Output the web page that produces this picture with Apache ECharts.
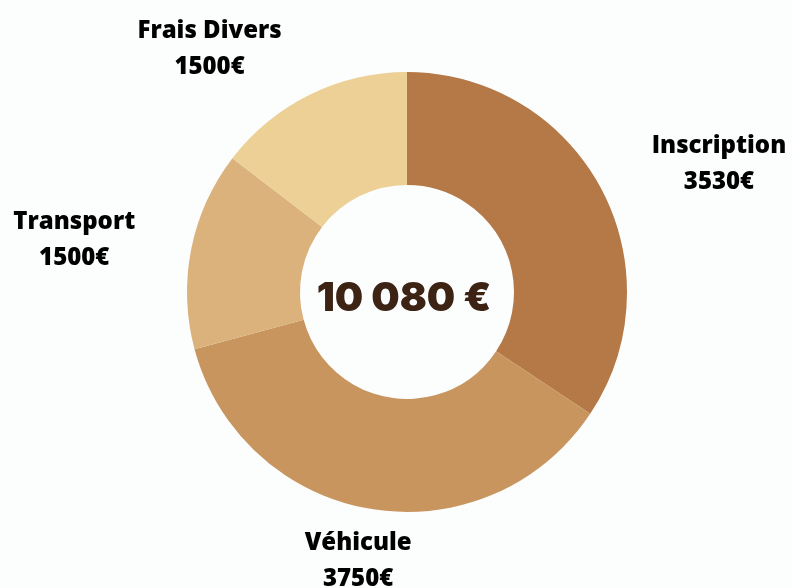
<!DOCTYPE html>
<html>
<head>
<meta charset="utf-8">
<script src="https://cdn.jsdelivr.net/npm/echarts@6/dist/echarts.min.js"></script>
<style>
html,body{margin:0;padding:0;background:#fcfefe;}
#chart{width:792px;height:588px;}
</style>
</head>
<body>
<div id="chart"></div>
<script>
const categories = ['Inscription', 'Véhicule', 'Transport', 'Frais Divers'];
const values = [3530, 3750, 1500, 1500];
const colors = ['#B57847', '#C9955F', '#DBB27B', '#EDD096'];
const totalLabel = '10 080 €';
const centeredBelow = ['Véhicule'];

const chart = echarts.init(document.getElementById('chart'));
chart.setOption({
  backgroundColor: '#fcfefe',
  animation: false,
  series: [{
    type: 'pie',
    center: [407, 292],
    radius: [107, 220],
    startAngle: 90,
    clockwise: true,
    avoidLabelOverlap: false,
    data: categories.map((c, i) => ({ name: c, value: values[i], itemStyle: { color: colors[i] } })),
    label: {
      show: true,
      position: 'outside',
      formatter: p => p.name + '\n' + p.value + '€',
      fontFamily: 'Open Sans',
      fontWeight: 800,
      fontSize: 24,
      lineHeight: 36,
      color: '#000'
    },
    labelLine: { show: false, length: 52, length2: 0 },
    labelLayout: function (p) {
      const r = p.labelRect;
      let cx = r.x + r.width / 2;
      if (centeredBelow.indexOf(categories[p.dataIndex]) >= 0) {
        cx = p.align === 'right' ? r.x + r.width : r.x;
      }
      return { x: cx, y: r.y + r.height / 2 + 1, align: 'center', verticalAlign: 'middle' };
    }
  }, {
    type: 'pie',
    center: [407, 292],
    radius: [0, 1],
    silent: true,
    itemStyle: { color: 'transparent' },
    labelLine: { show: false },
    data: [{ name: totalLabel, value: 1 }],
    label: {
      show: true,
      position: 'center',
      formatter: totalLabel,
      fontFamily: 'Inter',
      fontWeight: 900,
      fontSize: 40,
      color: '#3D2314',
      offset: [-3, 7]
    }
  }]
});
</script>
</body>
</html>
